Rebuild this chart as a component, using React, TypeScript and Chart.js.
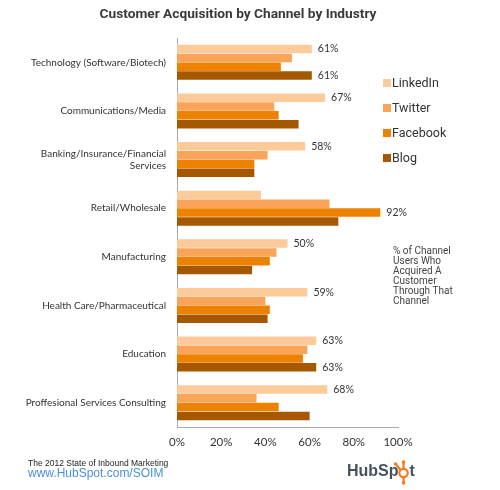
import { useEffect, useRef } from "react";
import { Chart, registerables } from "chart.js";

Chart.register(...registerables);

const chartTitle = "Customer Acquisition by Channel by Industry";
const categories: string[][] = [
  ["Technology (Software/Biotech)"],
  ["Communications/Media"],
  ["Banking/Insurance/Financial", "Services"],
  ["Retail/Wholesale"],
  ["Manufacturing"],
  ["Health Care/Pharmaceutical"],
  ["Education"],
  ["Proffesional Services Consulting"],
];
const seriesNames = ["LinkedIn", "Twitter", "Facebook", "Blog"];
const seriesColors = ["#FDCA9A", "#F9A459", "#EC8200", "#A65800"];
const linkedin = [61, 67, 58, 38, 50, 59, 63, 68];
const twitter = [52, 44, 41, 69, 45, 40, 59, 36];
const facebook = [47, 46, 35, 92, 42, 42, 57, 46];
const blog = [61, 55, 35, 73, 34, 41, 63, 60];
const linkedinLabels = ["61%", "67%", "58%", "", "50%", "59%", "63%", "68%"];
const twitterLabels = ["", "", "", "", "", "", "", ""];
const facebookLabels = ["", "", "", "92%", "", "", "", ""];
const blogLabels = ["61%", "", "", "", "", "", "63%", ""];
const xTickValues = [0, 20, 40, 60, 80, 100];
const noteLines = ["% of Channel", "Users Who", "Acquired A", "Customer", "Through That", "Channel"];
const footerLine1 = "The 2012 State of Inbound Marketing";
const footerLine2 = "www.HubSpot.com/SOIM";

const allValues = [linkedin, twitter, facebook, blog];
const allLabels = [linkedinLabels, twitterLabels, facebookLabels, blogLabels];

const decorPlugin = {
  id: "decor",
  afterDraw(chart: any) {
    const ctx = chart.ctx as CanvasRenderingContext2D;
    ctx.save();
    // data labels
    ctx.font = "10.5px Lato";
    ctx.fillStyle = "#333";
    ctx.textBaseline = "middle";
    ctx.textAlign = "left";
    chart.data.datasets.forEach((ds: any, di: number) => {
      const meta = chart.getDatasetMeta(di);
      meta.data.forEach((el: any, i: number) => {
        const lab = allLabels[di][i];
        if (lab) ctx.fillText(lab, el.x + 6, el.y);
      });
    });
    // title
    ctx.font = "bold 13.7px Roboto";
    ctx.fillStyle = "#3a3a3a";
    ctx.textAlign = "center";
    ctx.fillText(chartTitle, 238, 15);
    // legend
    ctx.textAlign = "left";
    ctx.font = "12.5px Roboto";
    const legY = [84, 109, 134, 159];
    seriesNames.forEach((n, i) => {
      ctx.fillStyle = seriesColors[i];
      ctx.fillRect(383, legY[i] - 5, 8, 8);
      ctx.fillStyle = "#333";
      ctx.fillText(n, 392, legY[i]);
    });
    // note
    ctx.font = "10px Roboto";
    ctx.fillStyle = "#444";
    noteLines.forEach((l, i) => ctx.fillText(l, 393, 251 + i * 10));
    // footer
    ctx.font = "8.5px 'Liberation Sans'";
    ctx.fillStyle = "#222";
    ctx.fillText(footerLine1, 28, 464);
    ctx.font = "12px 'Liberation Sans'";
    ctx.fillStyle = "#4a8fdf";
    ctx.fillText(footerLine2, 28, 474);
    // HubSpot logo
    ctx.font = "bold 16px 'Liberation Sans'";
    ctx.fillStyle = "#44525f";
    ctx.fillText("HubSp", 347, 472);
    const w = ctx.measureText("HubSp").width;
    const cx = 347 + w + 5;
    const cy = 473;
    ctx.strokeStyle = "#F27B21";
    ctx.lineWidth = 2.2;
    ctx.beginPath();
    ctx.arc(cx, cy, 4.2, 0, Math.PI * 2);
    ctx.stroke();
    ctx.beginPath();
    ctx.moveTo(cx, cy - 4);
    ctx.lineTo(cx, cy - 10);
    ctx.moveTo(cx - 3, cy - 3);
    ctx.lineTo(cx - 7, cy - 8);
    ctx.moveTo(cx, cy + 4);
    ctx.lineTo(cx, cy + 9);
    ctx.stroke();
    ctx.fillStyle = "#F27B21";
    ctx.beginPath();
    ctx.arc(cx, cy - 11, 1.8, 0, Math.PI * 2);
    ctx.arc(cx - 8, cy - 9, 1.8, 0, Math.PI * 2);
    ctx.fill();
    ctx.beginPath();
    ctx.arc(cx, cy + 10, 1.8, 0, Math.PI * 2);
    ctx.fill();
    ctx.fillStyle = "#44525f";
    ctx.fillText("t", cx + 6, 472);
    ctx.restore();
  },
};

export default function App() {
  const ref = useRef<HTMLCanvasElement | null>(null);
  useEffect(() => {
    if (!ref.current) return;
    const chart = new Chart(ref.current, {
      type: "bar",
      data: {
        labels: categories,
        datasets: seriesNames.map((n, i) => ({
          label: n,
          data: allValues[i],
          backgroundColor: seriesColors[i],
          borderWidth: 0,
          categoryPercentage: 0.725,
          barPercentage: 0.96,
        })),
      },
      options: {
        indexAxis: "y",
        responsive: false,
        animation: false,
        layout: { padding: { top: 38, right: 102, bottom: 43, left: 0 } },
        plugins: {
          legend: { display: false },
          title: { display: false },
          tooltip: { enabled: false },
        },
        scales: {
          x: {
            min: 0,
            max: 100,
            afterBuildTicks: (scale: any) => {
              scale.ticks = xTickValues.map((v) => ({ value: v }));
            },
            afterFit: (scale: any) => {
              scale.height = 20;
            },
            grid: { display: false, drawTicks: false },
            border: { display: true, color: "#aaa", dash: [1, 2], width: 1 },
            ticks: {
              padding: 8,
              color: "#333",
              font: { family: "Lato", size: 11.5 },
              callback: (v: any) => v + "%",
            },
          },
          y: {
            afterFit: (scale: any) => {
              scale.width = 177;
            },
            grid: { display: false, drawTicks: false },
            border: { display: true, color: "#aaa", dash: [1, 2], width: 1 },
            ticks: {
              padding: 11,
              color: "#333",
              font: { family: "Lato", size: 10, lineHeight: 1.2 },
            },
          },
        },
      },
      plugins: [decorPlugin],
    } as any);
    return () => chart.destroy();
  }, []);
  return (
    <div style={{ position: "fixed", left: 0, top: 0, width: 500, height: 490, background: "#fff" }}>
      <canvas ref={ref} width={500} height={490} />
    </div>
  );
}
